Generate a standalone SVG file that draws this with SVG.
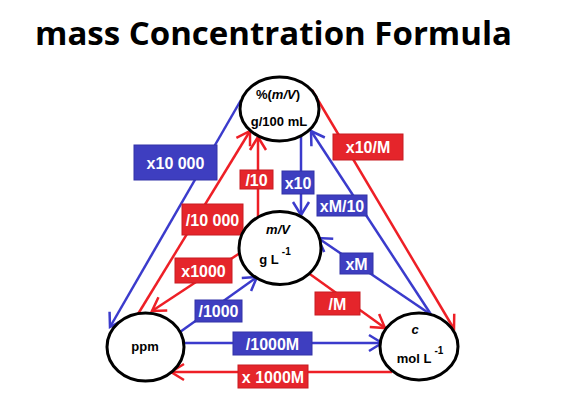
<svg xmlns="http://www.w3.org/2000/svg" width="575" height="406" viewBox="0 0 575 406">
<style>
.title{font-family:"Open Sans","Liberation Sans",sans-serif;font-weight:bold;font-size:33px;fill:#000}
.node{fill:#fff;stroke:#000;stroke-width:3}
.nt{font-family:"Liberation Sans",Arial,sans-serif;font-weight:bold;font-size:13px;fill:#000;text-anchor:middle}
.sup{font-size:10px}
.bl{stroke:#3b3bcc;stroke-width:2.5;fill:none}
.rd{stroke:#ee1f26;stroke-width:2.5;fill:none}
.bbox{fill:#3e3ec0;stroke:#3232a8;stroke-width:1}
.rbox{fill:#e5252b;stroke:#c81c22;stroke-width:1}
.lt{font-family:"Liberation Sans",Arial,sans-serif;font-weight:bold;font-size:16px;fill:#fff;text-anchor:middle}
</style>
<defs>
<marker id="ab" markerUnits="userSpaceOnUse" markerWidth="20" markerHeight="20" viewBox="-15 -10 20 20" refX="0" refY="0" orient="auto" overflow="visible">
<path d="M-13,-8 L0,0 L-13,8" fill="none" stroke="#3b3bcc" stroke-width="2.5"/>
</marker>
<marker id="ar" markerUnits="userSpaceOnUse" markerWidth="20" markerHeight="20" viewBox="-15 -10 20 20" refX="0" refY="0" orient="auto" overflow="visible">
<path d="M-13,-8 L0,0 L-13,8" fill="none" stroke="#ee1f26" stroke-width="2.5"/>
</marker>
</defs>
<rect width="575" height="406" fill="#fff"/>
<text class="title" x="35" y="45">mass Concentration Formula</text>
<g id="connectors">
<g id="c-x10000"><line class="bl" x1="241" y1="100" x2="110" y2="327" marker-end="url(#ab)"/><rect class="bbox" x="134" y="145" width="83" height="35"/><text class="lt" x="175.5" y="168.5">x10 000</text></g>
<g id="c-d10000"><line class="rd" x1="138" y1="314" x2="250" y2="131" marker-end="url(#ar)"/><rect class="rbox" x="182" y="204" width="61" height="31"/><text class="lt" x="212.5" y="225.5">/10 000</text></g>
<g id="c-d10"><line class="rd" x1="258" y1="217" x2="258" y2="137" marker-end="url(#ar)"/><rect class="rbox" x="240" y="170" width="33" height="19"/><text class="lt" x="256.5" y="185.5">/10</text></g>
<g id="c-x10"><line class="bl" x1="301" y1="137" x2="301" y2="215" marker-end="url(#ab)"/><rect class="bbox" x="282" y="171" width="32" height="23"/><text class="lt" x="298" y="188.5">x10</text></g>
<g id="c-xM10"><line class="bl" x1="432" y1="316" x2="311" y2="131" marker-end="url(#ab)"/><rect class="bbox" x="317" y="195" width="50" height="21"/><text class="lt" x="342" y="211.5">xM/10</text></g>
<g id="c-x10M"><line class="rd" x1="312" y1="90" x2="454" y2="329" marker-end="url(#ar)"/><rect class="rbox" x="333" y="134" width="70" height="26"/><text class="lt" x="368" y="153">x10/M</text></g>
<g id="c-xM"><line class="bl" x1="430" y1="314" x2="318" y2="238" marker-end="url(#ab)"/><rect class="bbox" x="340" y="253" width="33" height="21"/><text class="lt" x="356.5" y="269.5">xM</text></g>
<g id="c-x1000"><line class="rd" x1="240" y1="253" x2="152" y2="311" marker-end="url(#ar)"/><rect class="rbox" x="175" y="258" width="57" height="25"/><text class="lt" x="203.5" y="276.5">x1000</text></g>
<g id="c-d1000"><line class="bl" x1="180" y1="332" x2="257" y2="277" marker-end="url(#ab)"/><rect class="bbox" x="195" y="300" width="47" height="22"/><text class="lt" x="218.5" y="317">/1000</text></g>
<g id="c-dM"><line class="rd" x1="307" y1="272" x2="385" y2="328" marker-end="url(#ar)"/><rect class="rbox" x="315" y="292" width="45" height="23"/><text class="lt" x="337.5" y="309.5">/M</text></g>
<g id="c-d1000M"><line class="bl" x1="184" y1="343" x2="382" y2="343" marker-end="url(#ab)"/><rect class="bbox" x="233" y="332" width="79" height="23"/><text class="lt" x="272.5" y="349.5">/1000M</text></g>
<g id="c-x1000M"><line class="rd" x1="392" y1="372" x2="171" y2="372" marker-end="url(#ar)"/><rect class="rbox" x="238" y="365" width="70" height="23"/><text class="lt" x="273" y="382.5">x 1000M</text></g>
</g>
<g id="node-percent">
<ellipse class="node" cx="279.5" cy="109" rx="39.5" ry="32"/>
<text class="nt" x="278" y="99">%(<tspan font-style="italic">m/V</tspan>)</text>
<text class="nt" x="279" y="126">g/100 mL</text>
</g>
<g id="node-mv">
<ellipse class="node" cx="280" cy="248" rx="41" ry="36.5"/>
<text class="nt" x="278" y="234" font-style="italic">m/V</text>
<text class="nt" x="275" y="264">g L<tspan class="sup" dx="3" dy="-9">-1</tspan></text>
</g>
<g id="node-ppm">
<ellipse class="node" cx="145.5" cy="347" rx="38.5" ry="34"/>
<text class="nt" x="145" y="351">ppm</text>
</g>
<g id="node-c">
<ellipse class="node" cx="419" cy="346.5" rx="39" ry="33.5"/>
<text class="nt" x="415" y="334" font-style="italic">c</text>
<text class="nt" x="420" y="363">mol L<tspan class="sup" dx="3" dy="-9">-1</tspan></text>
</g>
</svg>
